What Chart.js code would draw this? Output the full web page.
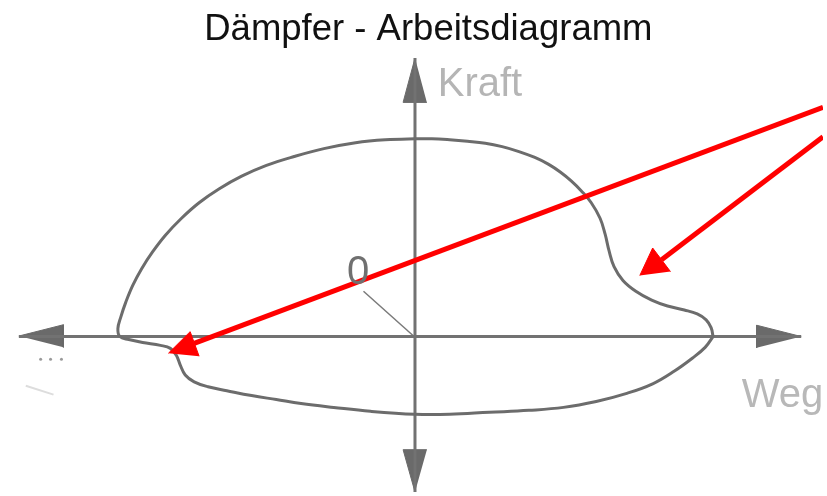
<!DOCTYPE html>
<html>
<head>
<meta charset="utf-8">
<title>Dämpfer - Arbeitsdiagramm</title>
<script src="https://cdn.jsdelivr.net/npm/chart.js@4.4.0/dist/chart.umd.min.js"></script>
<style>
  html, body { margin: 0; padding: 0; background: #ffffff; }
  #chart { display: block; }
</style>
</head>
<body>
<canvas id="chart" width="827" height="496"></canvas>
<script>
// Work diagram of a damper: Weg (travel) on x, Kraft (force) on y, origin at the axis cross

// the loop, traced counter-clockwise from the right tip
const loopWeg = [301, 299, 294, 285, 272, 255, 239, 223, 210, 201, 196, 192, 187, 178, 168, 158, 147, 135,
  121, 105, 88, 71, 53, 35, 17, 0, -30, -60, -92, -122, -150, -175, -198, -218, -236, -252, -265, -276,
  -285, -292, -297, -300, -298, -289, -275, -257, -247, -241, -237, -232, -223, -209, -190,
  -165, -140, -115, -82, -45, 0, 35, 75, 115, 150, 183, 213, 240, 262, 280, 293, 301];
const loopKraft = [0, 9, 17, 23, 27, 31, 37, 46, 57, 71, 87, 104, 120, 136, 148, 158, 167, 175,
  182, 188, 193, 196.5, 198.5, 200, 201, 201, 200, 197, 191, 183, 174, 163, 150, 136, 120, 103, 86, 69,
  52, 35, 20, 8, 0, -3, -6, -9, -12, -19, -29, -39, -46, -51, -55,
  -60, -64, -68, -72, -76, -79, -79, -77, -75, -72, -66, -58, -48, -35, -22, -11, 0];

// axes
const wegAxisX = [-400, 390];
const kraftAxisY = [-158, 283];

// arrow heads of the axes (tip, base corner, base corner)
const headRightX = [390, 345, 345];
const headRightY = [0, 11.5, -11.5];
const headLeftX = [-400, -355, -355];
const headLeftY = [0.5, 12, -11];
const headTopX = [0, -12, 12];
const headTopY = [283, 238, 238];
const headBottomX = [0, -12, 12];
const headBottomY = [-158, -115, -115];

// red pointer arrows
const red1X = [412, -223];
const red1Y = [233, -7];
const red1HeadX = [-249, -227, -218];
const red1HeadY = [-17, 5, -20];
const red2X = [412, 249];
const red2Y = [203, 78];
const red2HeadX = [227, 240, 258];
const red2HeadY = [62, 90, 66];

// small leader line of the "0"
const zeroLeadX = [-52, -2];
const zeroLeadY = [46, 1];

// scan specks on the left
const speckX = [-378, -368, -357];
const speckY = [-23, -23, -23];
const smudgeX = [-393, -365];
const smudgeY = [-50, -59];

const labels = [
  { text: 'Dämpfer - Arbeitsdiagramm', x: 13.5, y: 301, font: '36.5px "Liberation Sans", Arial, sans-serif', color: '#111111', align: 'center', base: 'alphabetic' },
  { text: 'Kraft', x: 23, y: 245, font: '40px "Liberation Sans", Arial, sans-serif', color: '#b5b5b5', align: 'left', base: 'alphabetic' },
  { text: 'Weg', x: 330, y: -72, font: '40px "Liberation Sans", Arial, sans-serif', color: '#b8b8b8', align: 'left', base: 'alphabetic' },
  { text: '0', x: -57.5, y: 65, font: '40px "Liberation Sans", Arial, sans-serif', color: '#707070', align: 'center', base: 'middle' }
];

function pts(xs, ys) {
  return xs.map((x, i) => ({ x: x, y: ys[i] }));
}

function lineSet(xs, ys, color, width, order, extra) {
  return Object.assign({
    data: pts(xs, ys),
    showLine: true,
    borderColor: color,
    borderWidth: width,
    pointRadius: 0,
    tension: 0,
    fill: false,
    order: order
  }, extra || {});
}

function headSet(xs, ys, color, order) {
  return lineSet(xs, ys, color, 1, order, { fill: 'shape', backgroundColor: color });
}

const textPlugin = {
  id: 'diagramText',
  afterDraw(chart) {
    const ctx = chart.ctx;
    const sx = chart.scales.x;
    const sy = chart.scales.y;
    labels.forEach(l => {
      ctx.save();
      ctx.font = l.font;
      ctx.fillStyle = l.color;
      ctx.textAlign = l.align;
      ctx.textBaseline = l.base;
      ctx.fillText(l.text, sx.getPixelForValue(l.x), sy.getPixelForValue(l.y));
      ctx.restore();
    });
  }
};

const axisGray = '#727272';
const red = '#ff0000';

new Chart(document.getElementById('chart'), {
  type: 'scatter',
  data: {
    datasets: [
      lineSet(red1X, red1Y, red, 5, 0),
      headSet(red1HeadX, red1HeadY, red, 0),
      lineSet(red2X, red2Y, red, 5, 0),
      headSet(red2HeadX, red2HeadY, red, 0),
      lineSet(loopWeg, loopKraft, '#6c6c6c', 3, 2, { tension: 0.4, borderCapStyle: 'round', borderJoinStyle: 'round' }),
      lineSet(wegAxisX, [0, 0], axisGray, 3, 3),
      lineSet([0, 0], kraftAxisY, axisGray, 3, 3),
      headSet(headRightX, headRightY, '#6a6a6a', 3),
      headSet(headLeftX, headLeftY, '#6a6a6a', 3),
      headSet(headTopX, headTopY, '#6a6a6a', 3),
      headSet(headBottomX, headBottomY, '#6a6a6a', 3),
      lineSet(zeroLeadX, zeroLeadY, '#7a7a7a', 1.5, 3),
      lineSet(smudgeX, smudgeY, '#dddddd', 2, 4),
      { data: pts(speckX, speckY), showLine: false, pointRadius: 1.5, pointBorderWidth: 0, backgroundColor: '#9a9a9a', order: 4 }
    ]
  },
  options: {
    responsive: false,
    animation: false,
    events: [],
    layout: { padding: 0 },
    plugins: {
      legend: { display: false },
      tooltip: { enabled: false },
      title: { display: false }
    },
    scales: {
      x: { type: 'linear', min: -415, max: 412, display: false },
      y: { type: 'linear', min: -158, max: 338, display: false }
    }
  },
  plugins: [textPlugin]
});
</script>
</body>
</html>
